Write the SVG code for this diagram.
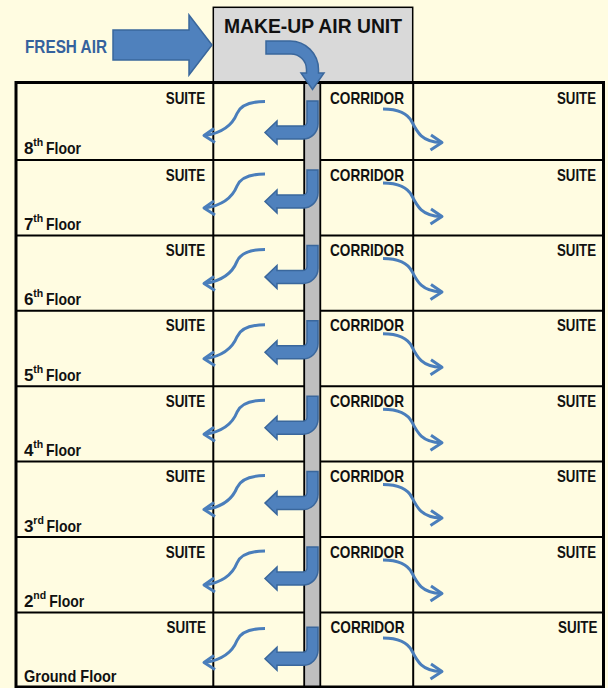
<svg xmlns="http://www.w3.org/2000/svg" width="608" height="688" viewBox="0 0 608 688">
  <style>
    .lbl { font-family: "Liberation Sans", Arial, sans-serif; font-weight: bold; font-size: 17px; fill: #111; }
    .sup { font-size: 10.5px; }
    .title { font-family: "Liberation Sans", Arial, sans-serif; font-weight: bold; font-size: 20px; fill: #111; }
    .fresh { font-family: "Liberation Sans", Arial, sans-serif; font-weight: bold; font-size: 18.5px; fill: #35629D; }
    .fat { fill: #4F81BD; stroke: #3A679C; stroke-width: 1.5; stroke-linejoin: miter; }
    .thin { fill: none; stroke: #4A7EBB; stroke-width: 3; stroke-linejoin: round; }
    .grid { stroke: #000; stroke-width: 2; fill: none; }
  </style>
  <defs>
    <!-- riser branch: down the shaft, then out to the corridor side -->
    <path id="branch" class="fat" d="M 307 0 H 318 V 23 A 15 15 0 0 1 303 38 H 277 V 43 L 265 31.5 L 277 20 V 25 H 303 A 4 4 0 0 0 307 21 Z"/>
    <!-- air drifting into the left suite -->
    <g id="flowLeft" class="thin">
      <path d="M 265 0 C 248 0 240 5 237 12 C 233 22 225 31 205 34"/>
      <path d="M 214 27 L 204 34 L 215 41"/>
    </g>
    <!-- air drifting into the right suite -->
    <g id="flowRight" class="thin">
      <path d="M 383 0 C 399 0 408 5 412 13 C 417 23 422 33 441 33.5"/>
      <path d="M 431 26 L 442 33.5 L 430.5 41"/>
    </g>
  </defs>

  <rect width="608" height="688" fill="#FFFCE1"/>

  <!-- make-up air unit on the roof -->
  <g id="mau">
    <rect x="213.3" y="7.3" width="199.4" height="76" fill="#D9D9D9" stroke="#000" stroke-width="1.5"/>
    <text class="title" x="224" y="33" textLength="178" lengthAdjust="spacingAndGlyphs">MAKE-UP AIR UNIT</text>
  </g>

  <!-- fresh air intake -->
  <g id="fresh-air">
    <text class="fresh" x="25" y="53" textLength="82" lengthAdjust="spacingAndGlyphs">FRESH AIR</text>
  </g>

  <!-- building section -->
  <g id="building">
    <rect x="304.2" y="83" width="16" height="604" fill="#BFBFBF"/>
    <g class="grid">
      <path d="M 16 160 H 304 M 320.5 160 H 603"/>
      <path d="M 16 235.4 H 304 M 320.5 235.4 H 603"/>
      <path d="M 16 310.8 H 304 M 320.5 310.8 H 603"/>
      <path d="M 16 386.2 H 304 M 320.5 386.2 H 603"/>
      <path d="M 16 461.6 H 304 M 320.5 461.6 H 603"/>
      <path d="M 16 537 H 304 M 320.5 537 H 603"/>
      <path d="M 16 612.4 H 304 M 320.5 612.4 H 603"/>
      <path d="M 213.3 83 V 687 M 413.2 83 V 687"/>
      <path d="M 304.2 83 V 687 M 320.3 83 V 687" stroke-width="1.8"/>
    </g>
    <rect x="16" y="82.5" width="587.5" height="604.5" fill="none" stroke="#000" stroke-width="3"/>
  </g>

  <!-- supply air arrows -->
  <g id="connectors">
    <path id="intake" class="fat" d="M 113 30 H 189 V 15 L 212 45 L 189 75 V 60 H 113 Z"/>
    <path id="mau-drop" class="fat" d="M 266 41 H 290 A 28.5 28.5 0 0 1 318.5 69.5 V 73 H 324 L 312.5 89.5 L 301 73 H 306.5 V 69.5 A 15.5 15.5 0 0 0 291 54 H 266 Z"/>

    <use href="#branch" y="101"/>
    <use href="#branch" y="170"/>
    <use href="#branch" y="245.4"/>
    <use href="#branch" y="320.8"/>
    <use href="#branch" y="396.2"/>
    <use href="#branch" y="471.6"/>
    <use href="#branch" y="547"/>
    <use href="#branch" y="627.3"/>

    <use href="#flowLeft" y="101.5"/>
    <use href="#flowLeft" y="174"/>
    <use href="#flowLeft" y="249.4"/>
    <use href="#flowLeft" y="324.8"/>
    <use href="#flowLeft" y="400.2"/>
    <use href="#flowLeft" y="475.6"/>
    <use href="#flowLeft" y="551"/>
    <use href="#flowLeft" y="628.5"/>

    <use href="#flowRight" y="109"/>
    <use href="#flowRight" y="183"/>
    <use href="#flowRight" y="258.4"/>
    <use href="#flowRight" y="333.8"/>
    <use href="#flowRight" y="409.2"/>
    <use href="#flowRight" y="484.6"/>
    <use href="#flowRight" y="560"/>
    <use href="#flowRight" y="638"/>
  </g>

  <!-- floors -->
  <g id="floor-8" class="lbl">
    <text x="165.7" y="104" textLength="39.5" lengthAdjust="spacingAndGlyphs">SUITE</text>
    <text x="330" y="104" textLength="74" lengthAdjust="spacingAndGlyphs">CORRIDOR</text>
    <text x="557" y="104" textLength="39" lengthAdjust="spacingAndGlyphs">SUITE</text>
    <text x="24" y="153.5">8<tspan class="sup" x="33.3" y="145.5">th </tspan><tspan x="46" y="153.5" textLength="35" lengthAdjust="spacingAndGlyphs">Floor</tspan></text>
  </g>
  <g id="floor-7" class="lbl">
    <text x="165.7" y="180.5" textLength="39.5" lengthAdjust="spacingAndGlyphs">SUITE</text>
    <text x="330" y="180.5" textLength="74" lengthAdjust="spacingAndGlyphs">CORRIDOR</text>
    <text x="557" y="180.5" textLength="39" lengthAdjust="spacingAndGlyphs">SUITE</text>
    <text x="24" y="230">7<tspan class="sup" x="33.3" y="222">th </tspan><tspan x="46" y="230" textLength="35" lengthAdjust="spacingAndGlyphs">Floor</tspan></text>
  </g>
  <g id="floor-6" class="lbl">
    <text x="165.7" y="256" textLength="39.5" lengthAdjust="spacingAndGlyphs">SUITE</text>
    <text x="330" y="256" textLength="74" lengthAdjust="spacingAndGlyphs">CORRIDOR</text>
    <text x="557" y="256" textLength="39" lengthAdjust="spacingAndGlyphs">SUITE</text>
    <text x="24" y="305.4">6<tspan class="sup" x="33.3" y="297.4">th </tspan><tspan x="46" y="305.4" textLength="35" lengthAdjust="spacingAndGlyphs">Floor</tspan></text>
  </g>
  <g id="floor-5" class="lbl">
    <text x="165.7" y="331" textLength="39.5" lengthAdjust="spacingAndGlyphs">SUITE</text>
    <text x="330" y="331" textLength="74" lengthAdjust="spacingAndGlyphs">CORRIDOR</text>
    <text x="557" y="331" textLength="39" lengthAdjust="spacingAndGlyphs">SUITE</text>
    <text x="24" y="380.8">5<tspan class="sup" x="33.3" y="372.8">th </tspan><tspan x="46" y="380.8" textLength="35" lengthAdjust="spacingAndGlyphs">Floor</tspan></text>
  </g>
  <g id="floor-4" class="lbl">
    <text x="165.7" y="406.5" textLength="39.5" lengthAdjust="spacingAndGlyphs">SUITE</text>
    <text x="330" y="406.5" textLength="74" lengthAdjust="spacingAndGlyphs">CORRIDOR</text>
    <text x="557" y="406.5" textLength="39" lengthAdjust="spacingAndGlyphs">SUITE</text>
    <text x="24" y="456">4<tspan class="sup" x="33.3" y="448">th </tspan><tspan x="46" y="456" textLength="35" lengthAdjust="spacingAndGlyphs">Floor</tspan></text>
  </g>
  <g id="floor-3" class="lbl">
    <text x="165.7" y="482" textLength="39.5" lengthAdjust="spacingAndGlyphs">SUITE</text>
    <text x="330" y="482" textLength="74" lengthAdjust="spacingAndGlyphs">CORRIDOR</text>
    <text x="557" y="482" textLength="39" lengthAdjust="spacingAndGlyphs">SUITE</text>
    <text x="24" y="531.6">3<tspan class="sup" x="33.3" y="523.6">rd </tspan><tspan x="46.5" y="531.6" textLength="35" lengthAdjust="spacingAndGlyphs">Floor</tspan></text>
  </g>
  <g id="floor-2" class="lbl">
    <text x="165.7" y="557.5" textLength="39.5" lengthAdjust="spacingAndGlyphs">SUITE</text>
    <text x="330" y="557.5" textLength="74" lengthAdjust="spacingAndGlyphs">CORRIDOR</text>
    <text x="557" y="557.5" textLength="39" lengthAdjust="spacingAndGlyphs">SUITE</text>
    <text x="24" y="607">2<tspan class="sup" x="33.3" y="599">nd </tspan><tspan x="49.3" y="607" textLength="35" lengthAdjust="spacingAndGlyphs">Floor</tspan></text>
  </g>
  <g id="floor-ground" class="lbl">
    <text x="166.5" y="632.5" textLength="39.5" lengthAdjust="spacingAndGlyphs">SUITE</text>
    <text x="330.5" y="632.5" textLength="74" lengthAdjust="spacingAndGlyphs">CORRIDOR</text>
    <text x="558" y="632.5" textLength="39.5" lengthAdjust="spacingAndGlyphs">SUITE</text>
    <text x="24" y="682" textLength="92.5" lengthAdjust="spacingAndGlyphs">Ground Floor</text>
  </g>
</svg>
